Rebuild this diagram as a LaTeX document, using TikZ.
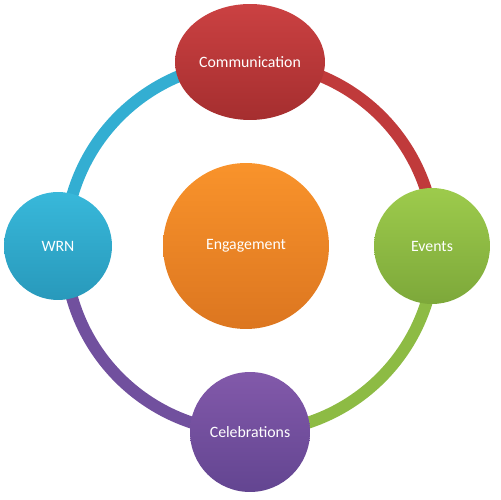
\documentclass[tikz,border=0pt]{standalone}
\usepackage{fontspec}
\setmainfont{Carlito}
\usetikzlibrary{shapes.geometric,backgrounds}
\definecolor{redT}{HTML}{CB4142}
\definecolor{redB}{HTML}{A52E2F}
\definecolor{redM}{HTML}{C03A3B}
\definecolor{bluT}{HTML}{38B8DA}
\definecolor{bluB}{HTML}{2899BB}
\definecolor{bluM}{HTML}{33AED2}
\definecolor{grnT}{HTML}{9DCB4C}
\definecolor{grnB}{HTML}{7DA83A}
\definecolor{grnM}{HTML}{8DBB44}
\definecolor{purT}{HTML}{8259AA}
\definecolor{purB}{HTML}{634591}
\definecolor{purM}{HTML}{71509E}
\definecolor{orgT}{HTML}{F9932B}
\definecolor{orgB}{HTML}{DC7620}
\tikzset{
  blob/.style={circle, inner sep=0pt, text=white, font=\fontsize{9}{11}\selectfont},
  ringseg/.style={line width=0.24cm}
}
\begin{document}
\begin{tikzpicture}[x=0.02cm,y=0.02cm]
\useasboundingbox (0,0) rectangle (500,500);
\node[blob, ellipse, minimum width=3cm, minimum height=2.32cm, top color=redT, bottom color=redB] (comm) at (250,438) {Communication};
\node[blob, minimum size=2.16cm, top color=bluT, bottom color=bluB] (wrn) at (58,254) {WRN};
\node[blob, minimum size=2.32cm, top color=grnT, bottom color=grnB] (events) at (432,254) {Events};
\node[blob, minimum size=2.4cm, top color=purT, bottom color=purB] (celeb) at (250,68) {Celebrations};
\node[blob, minimum size=3.32cm, top color=orgT, bottom color=orgB] (eng) at (246,254) {Engagement};
\begin{scope}[on background layer]
\draw[ringseg, bluM] (comm.center) arc[start angle=90, end angle=180, radius=3.7cm];
\draw[ringseg, redM] (comm.center) arc[start angle=90, end angle=0, radius=3.7cm];
\draw[ringseg, grnM] (celeb.center) arc[start angle=270, end angle=360, radius=3.7cm];
\draw[ringseg, purM] (celeb.center) arc[start angle=270, end angle=180, radius=3.7cm];
\end{scope}
\end{tikzpicture}
\end{document}
